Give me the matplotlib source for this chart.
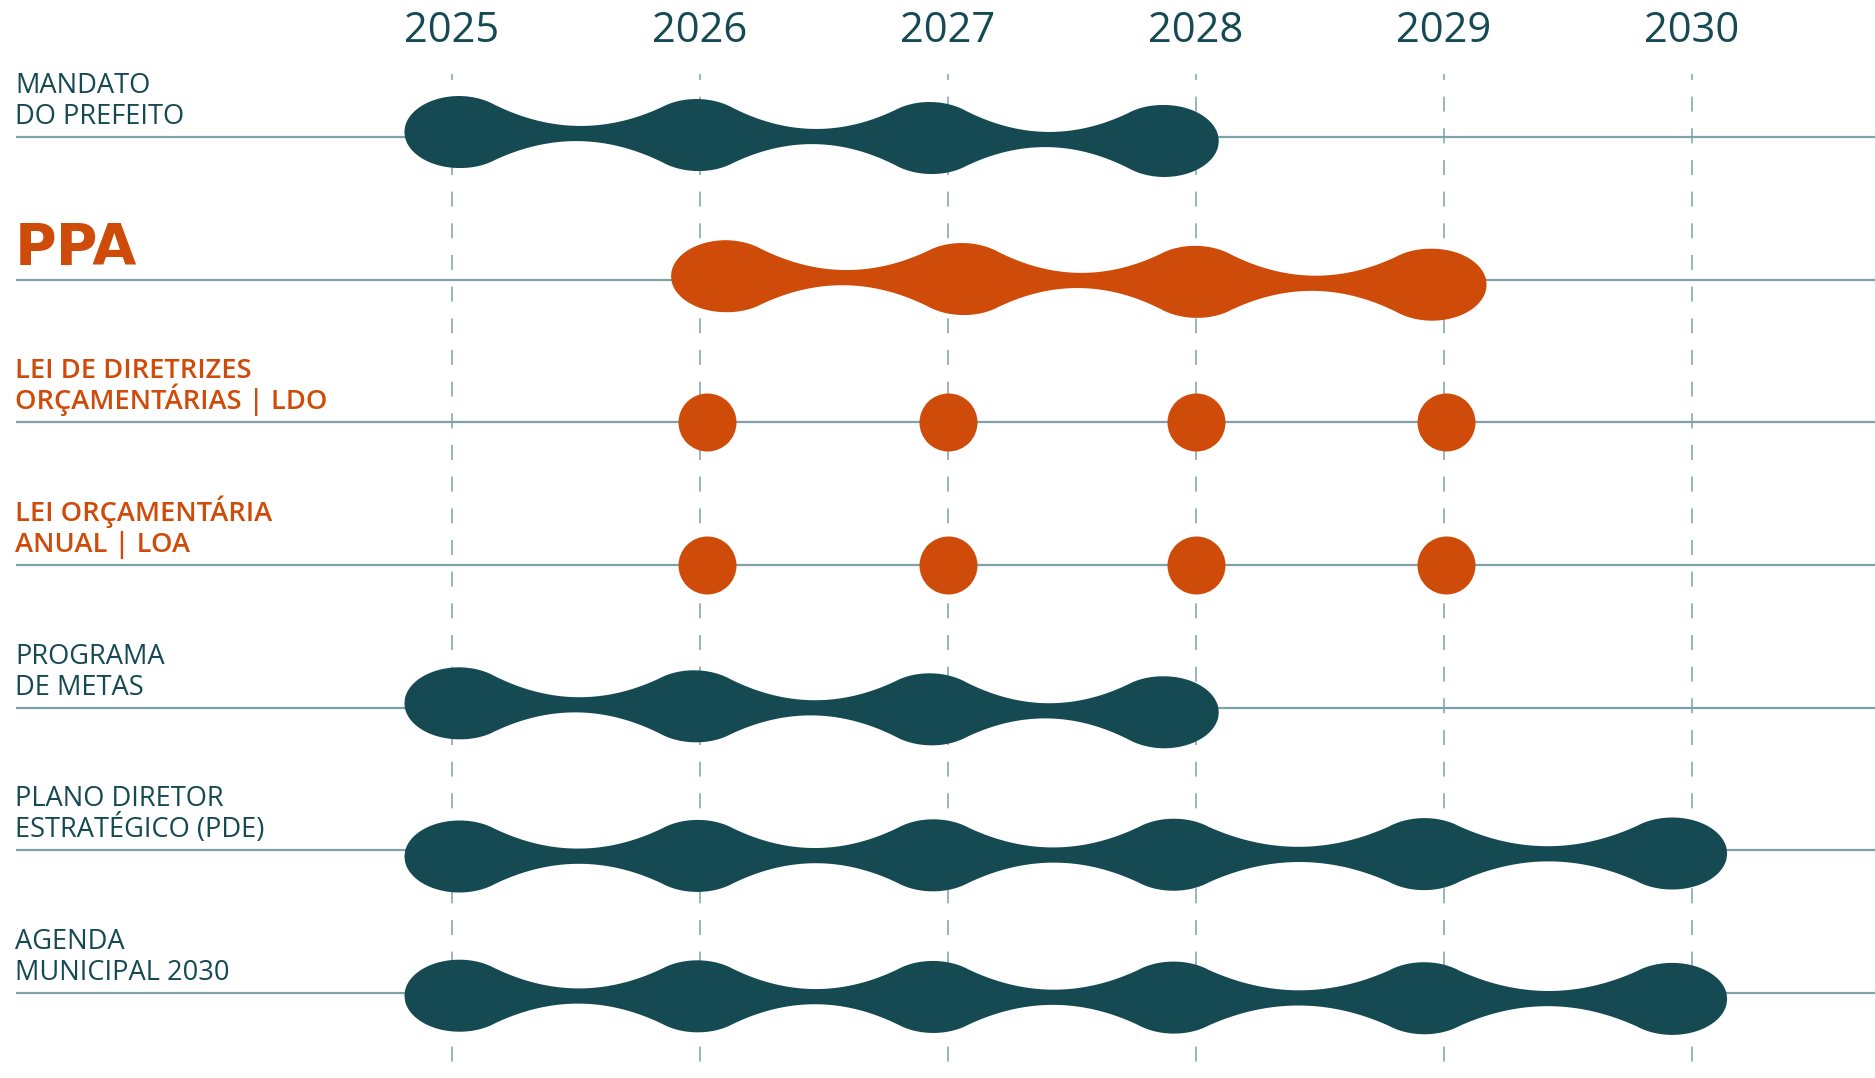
import numpy as np
import matplotlib
matplotlib.use("Agg")
import matplotlib.pyplot as plt

plt.rcParams['font.family'] = ['Open Sans', 'DejaVu Sans']
plt.rcParams['lines.scale_dashes'] = False

TEAL = "#154a53"
ORANGE = "#cf4b09"
GRID = "#7fa2a8"

# data
years = [2025, 2026, 2027, 2028, 2029, 2030]

row_labels = [
    ["MANDATO", "DO PREFEITO"],
    ["PPA"],
    ["LEI DE DIRETRIZES", "ORÇAMENTÁRIAS | LDO"],
    ["LEI ORÇAMENTÁRIA", "ANUAL | LOA"],
    ["PROGRAMA", "DE METAS"],
    ["PLANO DIRETOR", "ESTRATÉGICO (PDE)"],
    ["AGENDA", "MUNICIPAL 2030"],
]
row_colors = [TEAL, ORANGE, ORANGE, ORANGE, TEAL, TEAL, TEAL]

# bulge centres (years) for the continuous "blob" rows
mandato_years = [2025.03, 2025.99, 2026.93, 2027.87]
ppa_years = [2026.105, 2027.06, 2028.0, 2028.95]
metas_years = [2025.03, 2025.98, 2026.93, 2027.87]
pde_years = [2025.03, 2025.99, 2026.94, 2027.91, 2028.92, 2029.92]
agenda_years = [2025.03, 2025.99, 2026.94, 2027.91, 2028.92, 2029.92]

# annual laws (dots)
ldo_years = [2026.03, 2027.0, 2028.0, 2029.01]
loa_years = [2026.03, 2027.0, 2028.0, 2029.01]

# pixel geometry of the canvas (1875 x 1078)
W, H = 1875, 1078
X0_PX, YEAR_PX = 452, 248      # x of 2025, px per year
Y0_PX, ROW_PX = 137, 142.7     # y of first row, px per row

fig = plt.figure(figsize=(W / 100, H / 100), dpi=100)
ax = fig.add_axes([0, 0, 1, 1])
ax.set_xlim(2025 - X0_PX / YEAR_PX, 2025 + (W - X0_PX) / YEAR_PX)
ax.set_ylim((H - Y0_PX) / ROW_PX, -Y0_PX / ROW_PX)
ax.axis("off")

px_x = 1 / YEAR_PX
px_y = 1 / ROW_PX


def blob(ax, centers, row, color, dy0=0.0, dy1=0.0,
         rx=55, ry=36, neck=7.6, kink=35):
    # work in pixels along x, then convert back to years
    c = (np.array(centers) - 2025) * YEAR_PX
    xs = np.linspace(c[0] - rx, c[-1] + rx, 2000)
    h = np.zeros_like(xs)
    for ci in c:
        u = (xs - ci) / rx
        h = np.maximum(h, ry * np.sqrt(np.clip(1 - u ** 2, 0, None)))
    hk = ry * np.sqrt(1 - (kink / rx) ** 2)
    for a, b in zip(c[:-1], c[1:]):
        m = (a + b) / 2
        dk = (b - a) / 2 - kink
        k = (hk - neck) / dk ** 2
        sel = np.abs(xs - m) <= dk
        h[sel] = np.maximum(h[sel], neck + k * (xs[sel] - m) ** 2)
    dy = np.interp(xs, [c[0], c[-1]], [dy0, dy1])
    top = row + (dy - h) * px_y
    bot = row + (dy + h) * px_y
    xd = 2025 + xs / YEAR_PX
    ax.fill(np.concatenate([xd, xd[::-1]]), np.concatenate([top, bot[::-1]]),
            color=color, lw=0, zorder=3)


# horizontal row lines
x_left = ax.get_xlim()[0] + 16 * px_x
for i in range(len(row_labels)):
    ax.plot([x_left, ax.get_xlim()[1]], [i, i], color=GRID, lw=1.6, zorder=1,
            solid_capstyle="butt")

# dashed year lines
y_top = (74 - Y0_PX) / ROW_PX
y_bot = ax.get_ylim()[0]
for yr in years:
    ax.plot([yr, yr], [y_top, y_bot], color=GRID, lw=1.1, zorder=1,
            linestyle=(6.5, (10.8, 12.0)))
    ax.text(yr, (41.7 - Y0_PX) / ROW_PX, str(yr), ha="center", va="baseline",
            fontsize=30, color=TEAL, fontweight="medium")

# blobs
blob(ax, mandato_years, 0, TEAL, -5, 4)
blob(ax, ppa_years, 1, ORANGE, -3.5, 5)
blob(ax, metas_years, 4, TEAL, -4.5, 4.5)
blob(ax, pde_years, 5, TEAL, 6, 3)
blob(ax, agenda_years, 6, TEAL, 2.5, 5.7)

# dots
dot_size = (58 * 0.72) ** 2
ax.scatter(ldo_years, [2] * len(ldo_years), s=dot_size, color=ORANGE, lw=0, zorder=3)
ax.scatter(loa_years, [3] * len(loa_years), s=dot_size, color=ORANGE, lw=0, zorder=3)

# labels on the left
x_text = ax.get_xlim()[0] + 15 * px_x
for i, (lines, col) in enumerate(zip(row_labels, row_colors)):
    if lines == ["PPA"]:
        ax.text(x_text, i - 14.5 * px_y, "PPA", ha="left", va="baseline",
                fontsize=41, fontweight="heavy", color=col, family=["DejaVu Sans"])
        continue
    weight = "semibold" if col == ORANGE else "normal"
    for k, line in enumerate(lines):
        off = 44 if k == 0 else 13
        ax.text(x_text, i - off * px_y, line, ha="left", va="baseline",
                fontsize=19.6, fontweight=weight, color=col)

fig.savefig("out.png", dpi=100, facecolor="white")
